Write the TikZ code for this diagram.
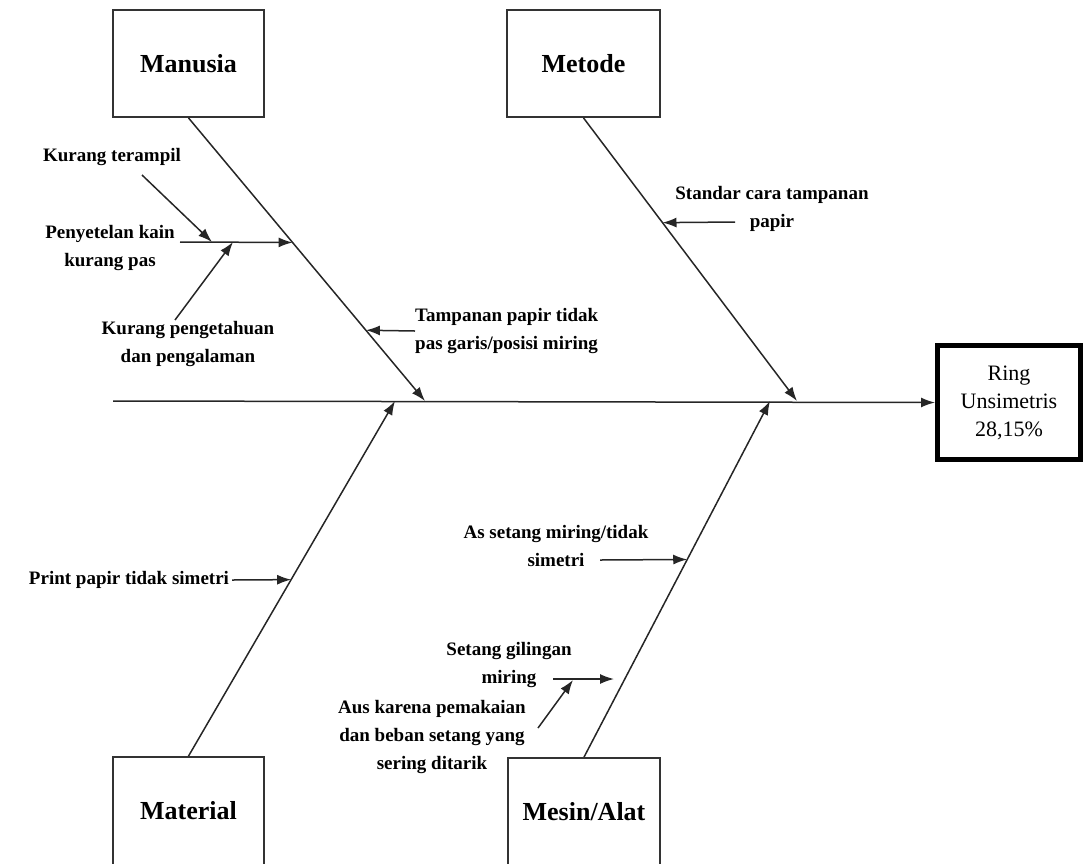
\documentclass[tikz,border=0pt]{standalone}
\usepackage{fontspec}
\setmainfont{Liberation Serif}
\usepackage{tikz}
\usetikzlibrary{calc}
\usetikzlibrary{arrows.meta}
\usetikzlibrary{positioning}

\tikzset{
  catbox/.style={rectangle, draw=black!80, line width=1.8pt, minimum width=151pt, minimum height=107pt, font=\bfseries\fontsize{26}{30}\selectfont},
  lowbox/.style={catbox, minimum height=0pt, inner ysep=0pt, text height=62pt, text depth=56pt, anchor=base},
  cause/.style={inner sep=0pt, align=center, font=\bfseries\fontsize{19}{28}\selectfont},
  bone/.style={-{Latex[length=14pt,width=10pt]}, line width=1.5pt, draw=black!85},
}

\begin{document}
\begin{tikzpicture}[x=1pt, y=-1pt]
\useasboundingbox (0,0) rectangle (1086,863);
\clip (0,0) rectangle (1086,863);

% categories
\node [catbox] (Manusia) at (188.5, 63.5) {Manusia};
\node [catbox, minimum width=153pt] (Metode) at (583.5, 63.5) {Metode};
\node [lowbox] (Material) at (188.5, 819) {Material};
\node [lowbox, minimum width=152pt] (Mesin) at (584, 820) {Mesin/Alat};

% effect
\node [rectangle, draw=black, line width=5pt, minimum width=143pt, minimum height=114pt, align=center, font=\fontsize{22}{28}\selectfont] (Ring) at (1009, 402.5) {Ring\\Unsimetris\\28,15\%};

% spine and main bones
\coordinate (tail) at (113, 401);
\coordinate (mtip) at (425, 401);
\coordinate (ttip) at (797, 401);
\coordinate (atip) at (395, 401);
\coordinate (stip) at (770, 401);
\draw [bone] (tail) to (Ring.west);
\draw [bone] (Manusia.south) to (mtip);
\draw [bone] (Metode.south) to (ttip);
\draw [bone] (Material.north) to (atip);
\draw [bone] (Mesin.north) to (stip);

% Manusia causes
\node [cause] (KT) at (112, 157) {Kurang terampil};
\node [cause] (PK) at (110, 247.5) {Penyetelan kain\\kurang pas};
\node [cause] (KP) at (188, 344) {Kurang pengetahuan\\dan pengalaman};
\node [cause, align=left, anchor=west] (TP) at (415, 331) {Tampanan papir tidak\\pas garis/posisi miring};
\coordinate (PKa) at (180, 242);
\coordinate (PKb) at ($(Manusia.south)!0.44!(mtip)$);
\coordinate (KTa) at (142, 175);
\coordinate (KTb) at (212, 242);
\coordinate (KPa) at (175, 320);
\coordinate (KPb) at (233, 242);
\coordinate (TPb) at ($(Manusia.south)!0.75!(mtip)$);
\draw [bone] (PKa) to (PKb);
\draw [bone] (KTa) to (KTb);
\draw [bone] (KPa) to (KPb);
\draw [bone] (TP.west) to (TPb);

% Metode causes
\node [cause] (SC) at (772, 208.5) {Standar cara tampanan\\papir};
\coordinate (SCa) at (735, 222);
\coordinate (SCb) at ($(Metode.south)!0.37!(ttip)$);
\draw [bone] (SCa) to (SCb);

% Material causes
\node [cause] (PP) at (129, 580) {Print papir tidak simetri};
\coordinate (PPb) at ($(Material.north)!0.497!(atip)$);
\draw [bone] ([xshift=3pt]PP.east) to (PPb);

% Mesin/Alat causes
\node [cause] (AS) at (556, 546) {As setang miring/tidak\\simetri};
\node [cause] (SG) at (509, 665) {Setang gilingan\\miring};
\node [cause] (AK) at (432, 737) {Aus karena pemakaian\\dan beban setang yang\\sering ditarik};
\coordinate (ASa) at (600, 560);
\coordinate (ASb) at ($(Mesin.north)!0.555!(stip)$);
\coordinate (SGa) at (553, 679);
\coordinate (SGb) at (614, 679);
\coordinate (AKa) at (538, 728);
\coordinate (AKb) at (573, 680);
\draw [bone] (ASa) to (ASb);
\draw [bone] (SGa) to (SGb);
\draw [bone] (AKa) to (AKb);
\end{tikzpicture}
\end{document}
